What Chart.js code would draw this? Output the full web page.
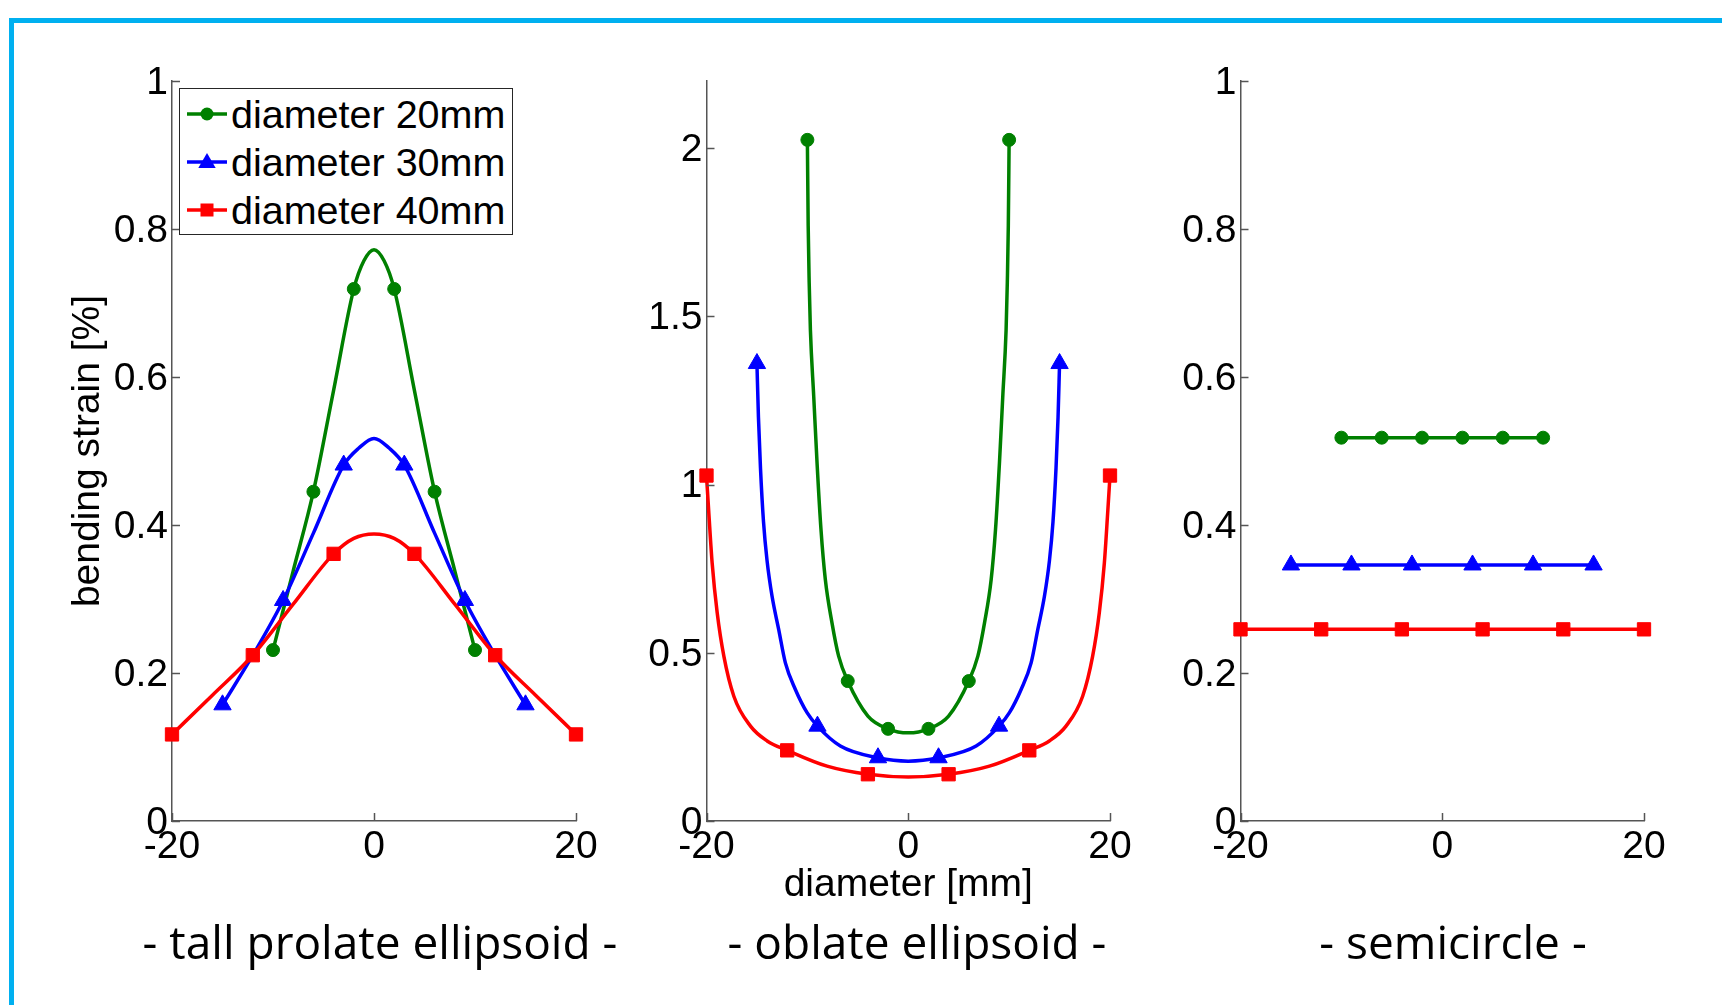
<!DOCTYPE html>
<html>
<head>
<meta charset="utf-8">
<script src="https://cdn.jsdelivr.net/npm/chart.js@4.4.1/dist/chart.umd.min.js"></script>
<style>
html,body{margin:0;padding:0;background:#fff;width:1722px;height:1005px;overflow:hidden;position:relative;}
#frame{position:absolute;left:9px;top:18px;width:2000px;height:2000px;border:5px solid #00B0F0;box-sizing:border-box;}
canvas{position:absolute;left:0;top:0;}
.sub{position:absolute;font-family:'Open Sans',sans-serif;font-size:46px;color:#000;white-space:nowrap;transform:translate(-50%,-50%);line-height:1.2;}
#legend{position:absolute;left:179px;top:88px;width:334px;height:147px;border:1.5px solid #262626;background:#fff;box-sizing:border-box;}
.lrow{position:absolute;left:0;height:40px;width:330px;}
.lrow svg{position:absolute;left:7px;top:0;}
.lrow span{position:absolute;left:51px;top:0;line-height:40px;font-family:'Liberation Sans',Arial,sans-serif;font-size:39.5px;color:#000;white-space:nowrap;}
</style>
</head>
<body>
<div id="frame"></div>
<canvas id="c1" width="1722" height="1005"></canvas>
<canvas id="c2" width="1722" height="1005"></canvas>
<canvas id="c3" width="1722" height="1005"></canvas>

<div id="legend">
  <div class="lrow" style="top:5px"><svg width="40" height="40"><line x1="0" y1="20" x2="40" y2="20" stroke="#008000" stroke-width="3.5"/><circle cx="20" cy="20" r="6.5" fill="#008000"/></svg><span>diameter 20mm</span></div>
  <div class="lrow" style="top:53px"><svg width="40" height="40"><line x1="0" y1="20" x2="40" y2="20" stroke="#0000FF" stroke-width="3.5"/><polygon points="20,11 28.7,26 11.3,26" fill="#0000FF"/></svg><span>diameter 30mm</span></div>
  <div class="lrow" style="top:101px"><svg width="40" height="40"><line x1="0" y1="20" x2="40" y2="20" stroke="#FF0000" stroke-width="3.5"/><rect x="13.5" y="13.5" width="13" height="13" fill="#FF0000"/></svg><span>diameter 40mm</span></div>
</div>

<div class="sub" style="left:380px;top:942px">- tall prolate ellipsoid -</div>
<div class="sub" style="left:917px;top:942px">- oblate ellipsoid -</div>
<div class="sub" style="left:1453px;top:942px">- semicircle -</div>

<script>
// ---------- tick values / labels ----------
const xTickValues = [-20, 0, 20];
const xTickLabels = ['-20', '0', '20'];
const yTickValues1 = [0, 0.2, 0.4, 0.6, 0.8, 1];
const yTickLabels1 = ['0', '0.2', '0.4', '0.6', '0.8', '1'];
const yTickValues2 = [0, 0.5, 1, 1.5, 2];
const yTickLabels2 = ['0', '0.5', '1', '1.5', '2'];
const yTickValues3 = [0, 0.2, 0.4, 0.6, 0.8, 1];
const yTickLabels3 = ['0', '0.2', '0.4', '0.6', '0.8', '1'];

const seriesNames = ['diameter 20mm', 'diameter 30mm', 'diameter 40mm'];
const panelTitles = ['- tall prolate ellipsoid -', '- oblate ellipsoid -', '- semicircle -'];

// ---------- panel 1: tall prolate ellipsoid ----------
const pro20CurveX = [-10, -8, -6, -4, -2, -1, 0, 1, 2, 4, 6, 8, 10];
const pro20CurveY = [0.231, 0.338, 0.445, 0.582, 0.719, 0.757, 0.772, 0.757, 0.719, 0.582, 0.445, 0.338, 0.231];
const pro20MarkX = [-10, -6, -2, 2, 6, 10];
const pro20MarkY = [0.231, 0.445, 0.719, 0.719, 0.445, 0.231];

const pro30CurveX = [-15, -12, -9, -6, -3, -1.5, 0, 1.5, 3, 6, 9, 12, 15];
const pro30CurveY = [0.157, 0.224, 0.298, 0.389, 0.481, 0.504, 0.517, 0.504, 0.481, 0.389, 0.298, 0.224, 0.157];
const pro30MarkX = [-15, -9, -3, 3, 9, 15];
const pro30MarkY = [0.157, 0.298, 0.481, 0.481, 0.298, 0.157];

const pro40CurveX = [-20, -16, -12, -8, -4, -2, 0, 2, 4, 8, 12, 16, 20];
const pro40CurveY = [0.117, 0.170, 0.224, 0.293, 0.361, 0.382, 0.388, 0.382, 0.361, 0.293, 0.224, 0.170, 0.117];
const pro40MarkX = [-20, -12, -4, 4, 12, 20];
const pro40MarkY = [0.117, 0.224, 0.361, 0.361, 0.224, 0.117];

// ---------- panel 2: oblate ellipsoid ----------
const obl20CurveX = [-10, -9.92, -9.82, -9.70, -9.37, -9.04, -8.65, -8.22, -7.56, -6.9, -6, -4, -2, 0, 2, 4, 6, 6.9, 7.56, 8.22, 8.65, 9.04, 9.37, 9.70, 9.82, 9.92, 10];
const obl20CurveY = [2.025, 1.77, 1.6, 1.46, 1.262, 1.064, 0.866, 0.718, 0.589, 0.49, 0.416, 0.312, 0.274, 0.262, 0.274, 0.312, 0.416, 0.49, 0.589, 0.718, 0.866, 1.064, 1.262, 1.46, 1.6, 1.77, 2.025];
const obl20MarkX = [-10, -6, -2, 2, 6, 10];
const obl20MarkY = [2.025, 0.416, 0.274, 0.274, 0.416, 2.025];

const obl30CurveX = [-15, -14.85, -14.65, -14.35, -14.0, -13.5, -12.84, -12.18, -11.19, -10.03, -9, -6.73, -3, 0, 3, 6.73, 9, 10.03, 11.19, 12.18, 12.84, 13.5, 14.0, 14.35, 14.65, 14.85, 15];
const obl30CurveY = [1.36, 1.2, 1.05, 0.89, 0.775, 0.668, 0.569, 0.47, 0.391, 0.322, 0.282, 0.223, 0.188, 0.178, 0.188, 0.223, 0.282, 0.322, 0.391, 0.47, 0.569, 0.668, 0.775, 0.89, 1.05, 1.2, 1.36];
const obl30MarkX = [-15, -9, -3, 3, 9, 15];
const obl30MarkY = [1.36, 0.282, 0.188, 0.188, 0.282, 1.36];

const obl40CurveX = [-20, -19.77, -19.44, -18.94, -18.28, -17.29, -15.64, -13.99, -12, -8.05, -4, 0, 4, 8.05, 12, 13.99, 15.64, 17.29, 18.28, 18.94, 19.44, 19.77, 20];
const obl40CurveY = [1.027, 0.916, 0.767, 0.619, 0.49, 0.371, 0.282, 0.238, 0.21, 0.163, 0.139, 0.131, 0.139, 0.163, 0.21, 0.238, 0.282, 0.371, 0.49, 0.619, 0.767, 0.916, 1.027];
const obl40MarkX = [-20, -12, -4, 4, 12, 20];
const obl40MarkY = [1.027, 0.21, 0.139, 0.139, 0.21, 1.027];

// ---------- panel 3: semicircle ----------
const semi20X = [-10, -6, -2, 2, 6, 10];
const semi20Y = [0.518, 0.518, 0.518, 0.518, 0.518, 0.518];
const semi30X = [-15, -9, -3, 3, 9, 15];
const semi30Y = [0.346, 0.346, 0.346, 0.346, 0.346, 0.346];
const semi40X = [-20, -12, -4, 4, 12, 20];
const semi40Y = [0.259, 0.259, 0.259, 0.259, 0.259, 0.259];

// ---------- styling ----------
const GREEN = '#008000', BLUE = '#0000FF', RED = '#FF0000';
const AXIS = '#555555';
const FONT = "'Liberation Sans', Arial, sans-serif";
const TICK_FONT = {family: FONT, size: 39};

function pts(xs, ys) { return xs.map((x, i) => ({x: x, y: ys[i]})); }

function curveDS(xs, ys, color, order) {
  return {data: pts(xs, ys), showLine: true, borderColor: color, backgroundColor: color,
    borderWidth: 3.5, pointRadius: 0, cubicInterpolationMode: 'monotone', clip: false, order: order};
}
function markDS(label, xs, ys, color, style, radius, order, withLine) {
  return {label: label, data: pts(xs, ys), showLine: !!withLine, borderColor: color, backgroundColor: color,
    borderWidth: 3.5, pointStyle: style, pointRadius: radius, pointBorderWidth: 1,
    pointBackgroundColor: color, pointBorderColor: color, clip: false, order: order};
}

const innerTicks = {
  id: 'innerTicks',
  afterDraw(chart) {
    const {ctx, chartArea, scales} = chart;
    ctx.save();
    ctx.strokeStyle = AXIS;
    ctx.lineWidth = 1.5;
    scales.x.ticks.forEach(t => {
      const px = Math.round(scales.x.getPixelForValue(t.value)) + 0.5;
      ctx.beginPath(); ctx.moveTo(px, chartArea.bottom); ctx.lineTo(px, chartArea.bottom - 8); ctx.stroke();
    });
    scales.y.ticks.forEach(t => {
      const py = Math.round(scales.y.getPixelForValue(t.value)) + 0.5;
      ctx.beginPath(); ctx.moveTo(chartArea.left, py); ctx.lineTo(chartArea.left + 8, py); ctx.stroke();
    });
    ctx.restore();
  }
};

function makeChart(id, datasets, yMax, yVals, yLabels, padL, padR, yTitle, xTitle) {
  new Chart(document.getElementById(id), {
    type: 'scatter',
    data: {datasets: datasets},
    plugins: [innerTicks],
    options: {
      responsive: false, animation: false, devicePixelRatio: 1, events: [],
      layout: {padding: {left: padL, right: padR, top: 81, bottom: 84}},
      plugins: {legend: {display: false}, tooltip: {enabled: false}},
      scales: {
        x: {
          type: 'linear', position: 'bottom', min: -20, max: 20,
          grid: {display: false, drawTicks: false},
          border: {display: true, color: AXIS, width: 1.5},
          afterBuildTicks: s => { s.ticks = xTickValues.map(v => ({value: v})); },
          ticks: {autoSkip: false, maxRotation: 0, padding: 3, color: '#000', font: TICK_FONT,
                  callback: (v, i) => xTickLabels[i]},
          afterFit: s => { s.height = 100; },
          title: xTitle ? {display: true, text: xTitle, color: '#000', font: {family: FONT, size: 39}, padding: {top: 0, bottom: 12}} : {display: false}
        },
        y: {
          type: 'linear', position: 'left', min: 0, max: yMax,
          grid: {display: false, drawTicks: false},
          border: {display: true, color: AXIS, width: 1.5},
          afterBuildTicks: s => { s.ticks = yVals.map(v => ({value: v})); },
          ticks: {autoSkip: false, padding: 4, labelOffset: 2, color: '#000', font: TICK_FONT,
                  callback: (v, i) => yLabels[i]},
          afterFit: s => { s.width = 120; },
          title: yTitle ? {display: true, text: yTitle, color: '#000', font: {family: FONT, size: 39}, padding: {top: 12.5, bottom: 0}} : {display: false}
        }
      }
    }
  });
}

makeChart('c1', [
  curveDS(pro20CurveX, pro20CurveY, GREEN, 6),
  markDS(seriesNames[0], pro20MarkX, pro20MarkY, GREEN, 'circle', 6.5, 5),
  curveDS(pro30CurveX, pro30CurveY, BLUE, 4),
  markDS(seriesNames[1], pro30MarkX, pro30MarkY, BLUE, 'triangle', 10, 3),
  curveDS(pro40CurveX, pro40CurveY, RED, 2),
  markDS(seriesNames[2], pro40MarkX, pro40MarkY, RED, 'rect', 9.4, 1)
], 1, yTickValues1, yTickLabels1, 52, 1146, 'bending strain [%]', null);

makeChart('c2', [
  curveDS(obl20CurveX, obl20CurveY, GREEN, 6),
  markDS(seriesNames[0], obl20MarkX, obl20MarkY, GREEN, 'circle', 6.5, 5),
  curveDS(obl30CurveX, obl30CurveY, BLUE, 4),
  markDS(seriesNames[1], obl30MarkX, obl30MarkY, BLUE, 'triangle', 10, 3),
  curveDS(obl40CurveX, obl40CurveY, RED, 2),
  markDS(seriesNames[2], obl40MarkX, obl40MarkY, RED, 'rect', 9.4, 1)
], 2.2, yTickValues2, yTickLabels2, 586.5, 612, null, 'diameter [mm]');

makeChart('c3', [
  markDS(seriesNames[0], semi20X, semi20Y, GREEN, 'circle', 6.5, 3, true),
  markDS(seriesNames[1], semi30X, semi30Y, BLUE, 'triangle', 10, 2, true),
  markDS(seriesNames[2], semi40X, semi40Y, RED, 'rect', 9.4, 1, true)
], 1, yTickValues3, yTickLabels3, 1120.5, 78, null, null);
</script>
</body>
</html>
